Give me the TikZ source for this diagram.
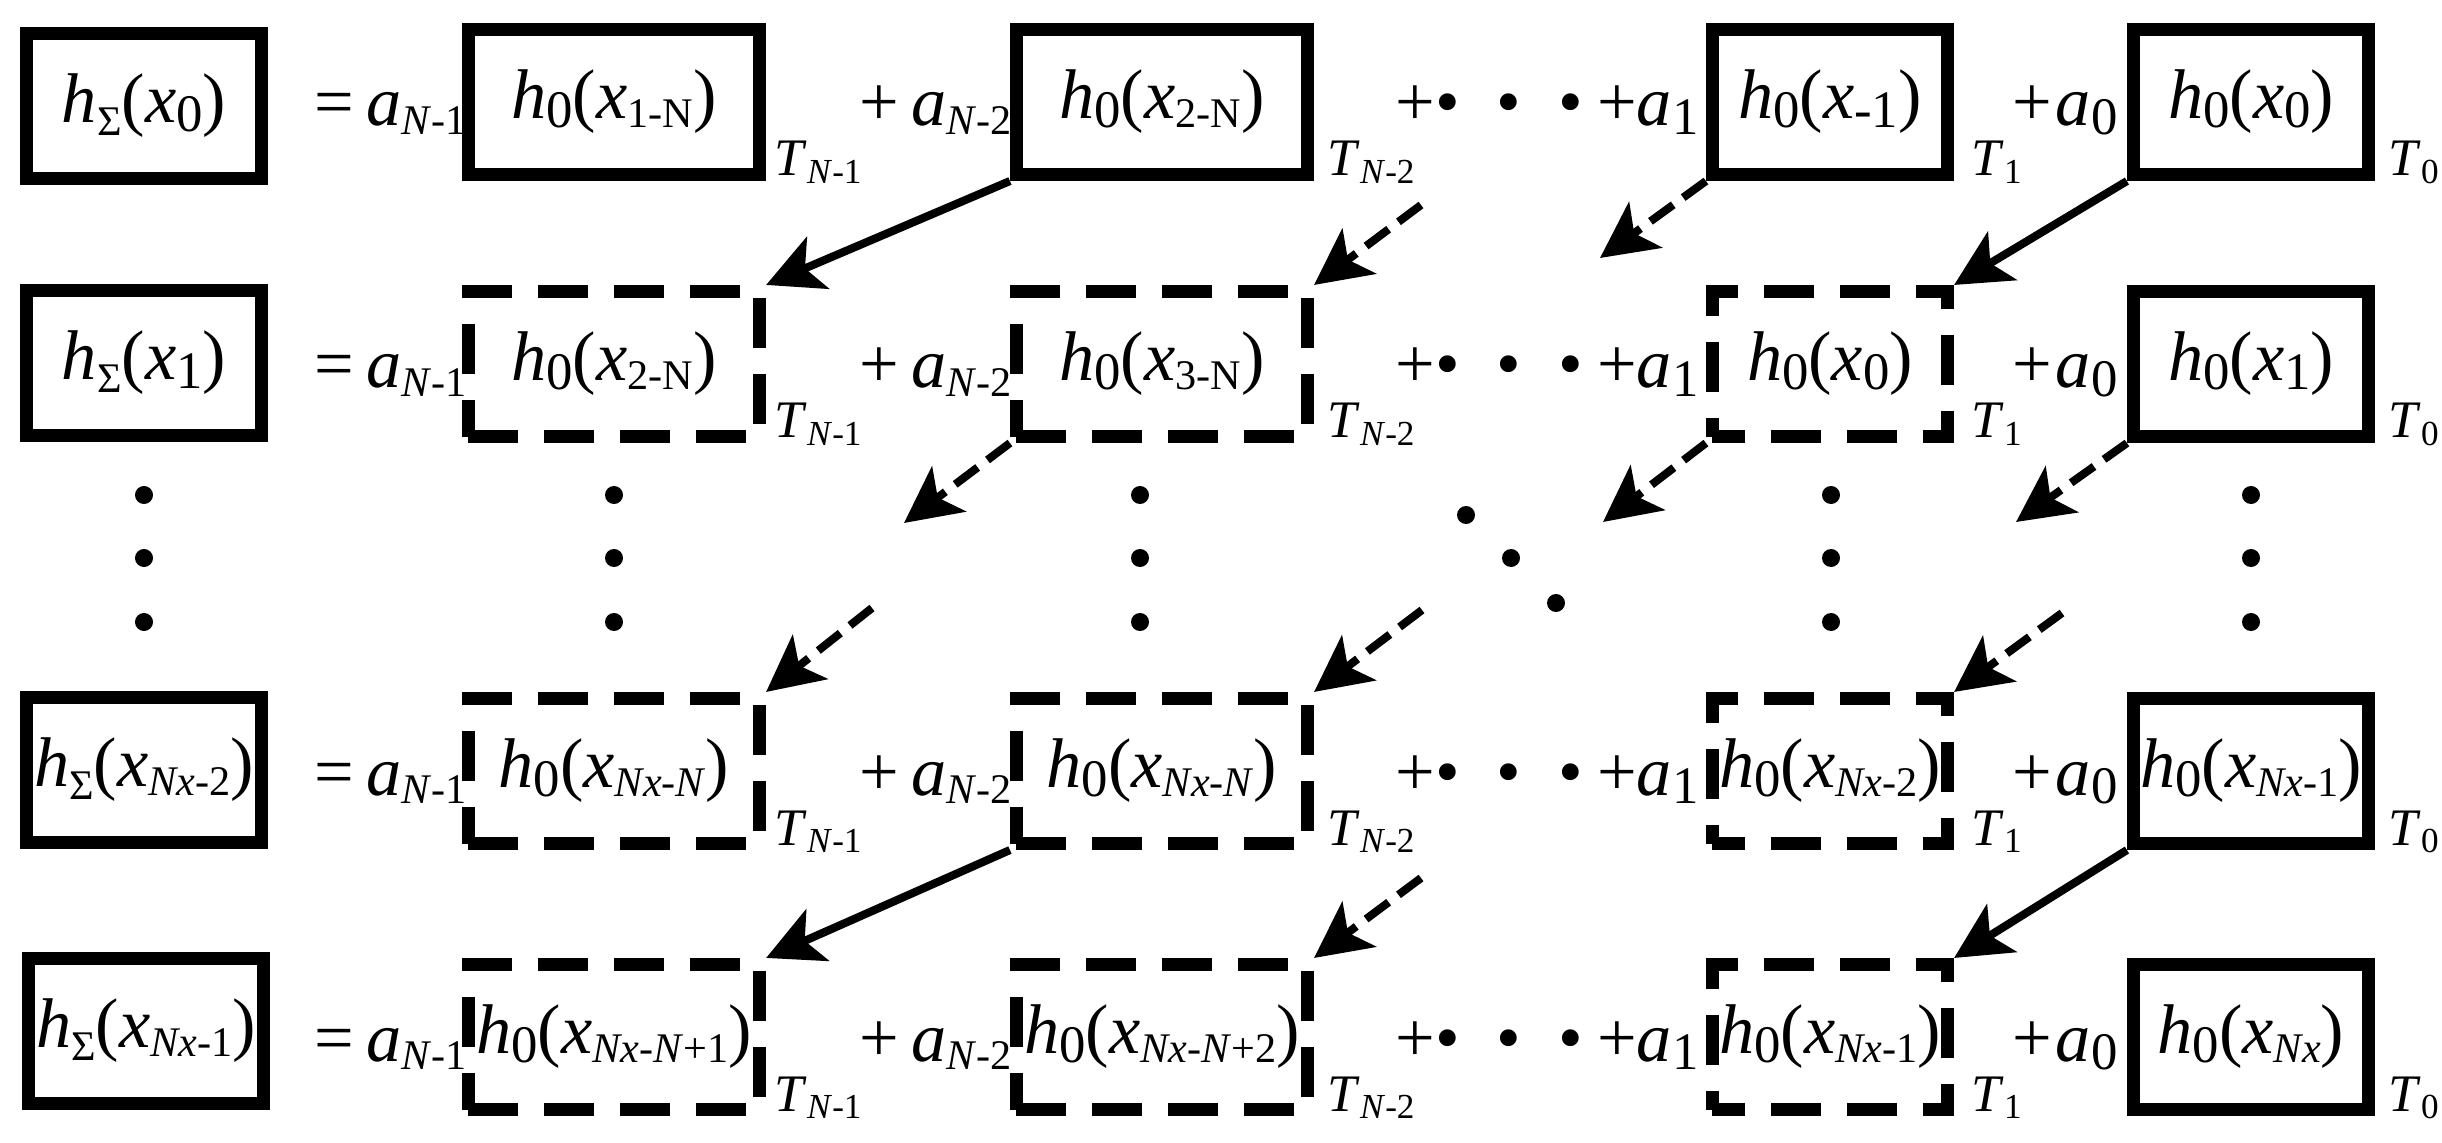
\documentclass[tikz,border=0pt]{standalone}
\usepackage{fontspec}
\setmainfont{Liberation Serif}
\usetikzlibrary{positioning, arrows.meta, calc}

\newcommand{\lo}[1]{\raisebox{-2.5pt}{\fontsize{15}{15}\selectfont #1}}
\newcommand{\ls}[1]{\raisebox{-2.5pt}{\fontsize{12}{12}\selectfont #1}}
\newcommand{\hsum}[1]{\textit{h}\raisebox{-3.7pt}{\fontsize{12}{12}\selectfont Σ}(#1)}
\newcommand{\hz}[1]{\textit{h}\lo{0}(#1)}
\newcommand{\xx}[1]{\textit{x}#1}
\newcommand{\tl}[1]{\textit{T}\raisebox{-2pt}{\fontsize{10}{10}\selectfont #1}}

\begin{document}
\begin{tikzpicture}[
            x=0.01cm, y=-0.01cm,
            font=\fontsize{20}{24}\selectfont,
            box/.style={draw, line width=3.7pt, rectangle, inner sep=0pt, minimum width=2.91cm, minimum height=1.45cm},
            nbox/.style={box, minimum width=2.35cm},
            dbox/.style={box, dash pattern=on 14.2pt off 7.4pt},
            dnbox/.style={nbox, dash pattern=on 14.2pt off 7.4pt, dash phase=5pt},
            term/.style={inner sep=0pt, anchor=base west},
            tlabel/.style={term, font=\fontsize{15}{18}\selectfont},
            link/.style={line width=2.3pt, -{Stealth[length=16pt, width=16pt, inset=4pt]}},
            dlink/.style={link, dash pattern=on 8pt off 3.5pt},
            vdot/.style={circle, fill, inner sep=0pt, minimum size=0.18cm},
        ]
            \useasboundingbox (0,0) rectangle (2442,1143);

            % Left hand sides
            \node[nbox] (S-0) at (144,106) {\hsum{\xx{\lo{0}}}};
            \node[nbox] (S-1) at (144,363) {\hsum{\xx{\lo{1}}}};
            \node[nbox] (S-2) at (144,770) {\hsum{\xx{\ls{\textit{Nx}-2}}}};
            \node[nbox] (S-3) at (146,1031) {\hsum{\xx{\ls{\textit{Nx}-1}}}};

            % First row
            \node[box] (H-0-1) at (614,102) {\hz{\xx{\ls{1-N}}}};
            \node[box] (H-0-2) at (1162,102) {\hz{\xx{\ls{2-N}}}};
            \node[nbox] (H-0-3) at (1830,102) {\hz{\xx{\lo{-1}}}};
            \node[nbox] (H-0-4) at (2251,102) {\hz{\xx{\lo{0}}}};

            % Second row
            \node[dbox] (H-1-1) at (614,364) {\hz{\xx{\ls{2-N}}}};
            \node[dbox] (H-1-2) at (1162,364) {\hz{\xx{\ls{3-N}}}};
            \node[dnbox] (H-1-3) at (1830,364) {\hz{\xx{\lo{0}}}};
            \node[nbox] (H-1-4) at (2251,364) {\hz{\xx{\lo{1}}}};

            % Third row
            \node[dbox] (H-2-1) at (614,771) {\hz{\xx{\ls{\textit{Nx}-\textit{N}}}}};
            \node[dbox] (H-2-2) at (1162,771) {\hz{\xx{\ls{\textit{Nx}-\textit{N}}}}};
            \node[dnbox] (H-2-3) at (1830,771) {\hz{\xx{\ls{\textit{Nx}-2}}}};
            \node[nbox] (H-2-4) at (2251,771) {\hz{\xx{\ls{\textit{Nx}-1}}}};

            % Last row
            \node[dbox] (H-3-1) at (614,1037) {\hz{\xx{\ls{\textit{Nx}-\textit{N}+1}}}};
            \node[dbox] (H-3-2) at (1162,1037) {\hz{\xx{\ls{\textit{Nx}-\textit{N}+2}}}};
            \node[dnbox] (H-3-3) at (1830,1037) {\hz{\xx{\ls{\textit{Nx}-1}}}};
            \node[nbox] (H-3-4) at (2251,1037) {\hz{\xx{\ls{\textit{Nx}}}}};

            % Coefficients and delays, the same on every row
            \foreach \r / \y in {0/102, 1/364, 2/771, 3/1037} {
                \node[term] (A-\r-1) at (314,\y+24) {=\,\textit{a}\ls{\textit{N}-1}};
                \node[term] (A-\r-2) at (859,\y+24) {+\,\textit{a}\ls{\textit{N}-2}};
                \node[term] (A-\r-3) at (1395,\y+24) {+•\hspace{10.5pt}•\hspace{10.5pt}•\hspace{4pt}+\textit{a}\lo{1}};
                \node[term] (A-\r-4) at (2012,\y+24) {+\hspace{1pt}\textit{a}\lo{0}};
                \node[tlabel] (T-\r-1) at (774,\y+74) {\tl{\textit{N}-1}};
                \node[tlabel] (T-\r-2) at (1327,\y+74) {\tl{\textit{N}-2}};
                \node[tlabel] (T-\r-3) at (1971,\y+74) {\tl{1}};
                \node[tlabel] (T-\r-4) at (2388,\y+74) {\tl{0}};
            }

            % Vertical and diagonal dots
            \foreach \x in {144, 614, 1140, 1831, 2251}
                \foreach \y in {495, 558, 622}
                    \node[vdot] at (\x,\y) {};
            \foreach \x / \y in {1466/515, 1511/558, 1556/603}
                \node[vdot] at (\x,\y) {};

            % Free ends of the dashed arrows
            \coordinate (in-1-2) at (1421,205);
            \coordinate (out-0-3) at (1600,258);
            \coordinate (out-1-2) at (904,523);
            \coordinate (in-2-1) at (872,608);
            \coordinate (out-1-3) at (1603,522);
            \coordinate (in-2-2) at (1422,610);
            \coordinate (out-1-4) at (2016,522);
            \coordinate (in-2-3) at (2062,613);
            \coordinate (in-3-2) at (1421,878);

            % Shifts of the stored samples
            \draw[link] (H-0-2.south west) -- (H-1-1.north east);
            \draw[link] (H-0-4.south west) -- (H-1-3.north east);
            \draw[link] (H-2-2.south west) -- (H-3-1.north east);
            \draw[link] (H-2-4.south west) -- (H-3-3.north east);

            \draw[dlink] (in-1-2) -- (H-1-2.north east);
            \draw[dlink] (H-0-3.south west) -- (out-0-3);
            \draw[dlink] (H-1-2.south west) -- (out-1-2);
            \draw[dlink] (in-2-1) -- (H-2-1.north east);
            \draw[dlink] (H-1-3.south west) -- (out-1-3);
            \draw[dlink] (in-2-2) -- (H-2-2.north east);
            \draw[dlink] (H-1-4.south west) -- (out-1-4);
            \draw[dlink] (in-2-3) -- (H-2-3.north east);
            \draw[dlink] (in-3-2) -- (H-3-2.north east);
        \end{tikzpicture}
\end{document}
